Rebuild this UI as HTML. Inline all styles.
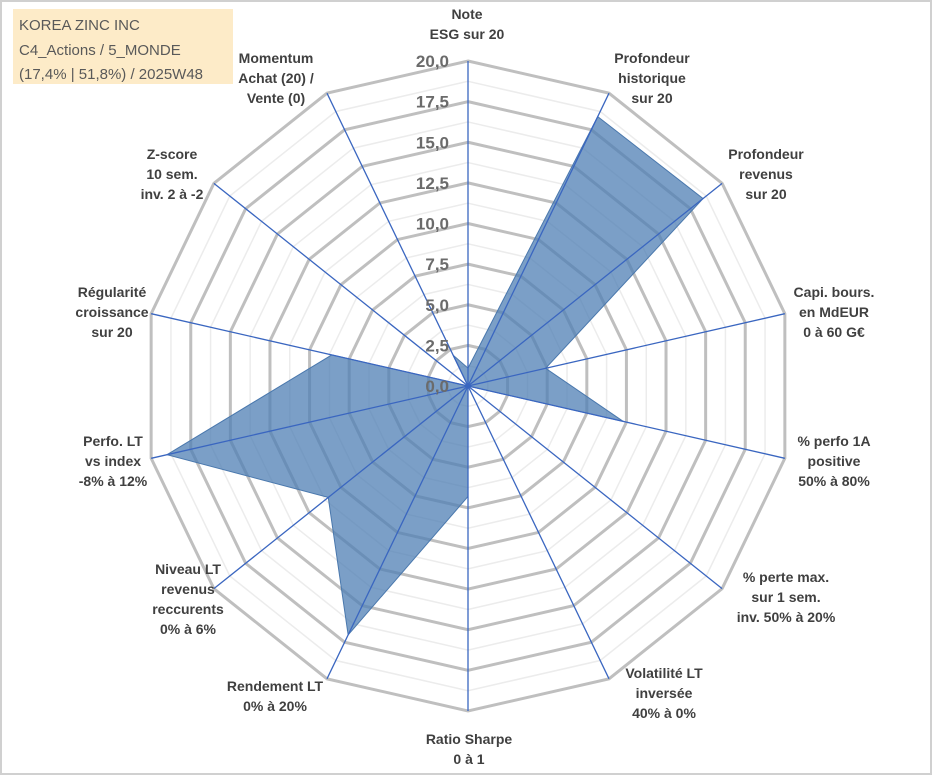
<!DOCTYPE html>
<html><head><meta charset="utf-8"><style>
body{margin:0;background:#fff;}
#wrap{position:relative;width:933px;height:776px;overflow:hidden;font-family:"Liberation Sans",sans-serif;}
</style></head><body>
<div id="wrap">
<svg id="chart" width="933" height="776">
<rect x="1" y="1" width="930" height="773" fill="#fff" stroke="#d0d0d0" stroke-width="2"/>
<rect x="13" y="9" width="220" height="75" fill="#fdebc8"/>
<text x="19" y="30" font-size="15" fill="#595959">KOREA ZINC INC</text>
<text x="19" y="55" font-size="15" fill="#595959">C4_Actions / 5_MONDE</text>
<text x="19" y="79" font-size="15" fill="#595959">(17,4% | 51,8%) / 2025W48</text>
<g id="grid"></g><g id="series"></g><g id="spokes"></g><g id="ticks"></g><g id="labels"></g>
</svg>
</div>
<script>
const categories=[["Note","ESG sur 20"],["Profondeur","historique","sur 20"],["Profondeur","revenus","sur 20"],["Capi. bours.","en MdEUR","0 à 60 G€"],["% perfo 1A","positive","50% à 80%"],["% perte max.","sur 1 sem.","inv. 50% à 20%"],["Volatilité LT","inversée","40% à 0%"],["Ratio Sharpe","0 à 1"],["Rendement LT","0% à 20%"],["Niveau LT","revenus","reccurents","0% à 6%"],["Perfo. LT","vs index","-8% à 12%"],["Régularité","croissance","sur 20"],["Z-score","10 sem.","inv. 2 à -2"],["Momentum","Achat (20) /","Vente (0)"]];
const values=[1.1,18.4,18.5,4.9,9.8,0,0,6.8,17,11,19,8.6,0,2.1];
const tickLabels=["0,0","2,5","5,0","7,5","10,0","12,5","15,0","17,5","20,0"];
const tickValues=[0,2.5,5,7.5,10,12.5,15,17.5,20];
const labelPos=[[467,14],[652,58],[766,154],[834,292],[834,441],[786,577],[664,673],[469,739],[275,686],[188,569],[113,441],[112,292],[172,154],[276,58]];
const CX=468,CY=386,R=325,MAX=20,N=categories.length;
const NS="http://www.w3.org/2000/svg";
function ang(i){return -Math.PI/2+i*2*Math.PI/N;}
function pt(i,v){const r=v/MAX*R,a=ang(i);return [CX+r*Math.cos(a),CY+r*Math.sin(a)];}
function mk(t,attrs,parent){const e=document.createElementNS(NS,t);for(const k in attrs)e.setAttribute(k,attrs[k]);document.getElementById(parent).appendChild(e);return e;}
// minor rings
for(let v=1.25;v<=MAX;v+=2.5){const p=mk('polygon',{points:categories.map((c,i)=>pt(i,v).join(',')).join(' '),fill:'none',stroke:'#ececec','stroke-width':1.5},'grid');

}
tickValues.forEach(v=>{if(v===0)return;const p=mk('polygon',{points:categories.map((c,i)=>pt(i,v).join(',')).join(' '),fill:'none',stroke:'#bfbfbf','stroke-width':3},'grid');

});
const poly=mk('polygon',{points:values.map((v,i)=>pt(i,v).join(',')).join(' '),fill:'#4f7fb4','fill-opacity':0.75,stroke:'#4a78ad','stroke-width':1},'series');


categories.forEach((c,i)=>{const e=pt(i,MAX);const l=mk('line',{x1:CX,y1:CY,x2:e[0],y2:e[1],stroke:'#3a66c0','stroke-width':1.3},'spokes');

});
tickValues.forEach((v,k)=>{const t=mk('text',{x:449,y:CY-v/MAX*R+6,'text-anchor':'end','font-size':17,'font-weight':'bold',fill:'#6b6b6b'},'ticks');t.textContent=tickLabels[k];

});
categories.forEach((lines,i)=>{const t=mk('text',{'text-anchor':'middle','font-size':14,'font-weight':'bold',fill:'#404040'},'labels');


lines.forEach((s,j)=>{const ts=document.createElementNS(NS,'tspan');ts.setAttribute('x',labelPos[i][0]);ts.setAttribute('y',labelPos[i][1]+5+j*20);ts.textContent=s;t.appendChild(ts);});});
</script>
</body></html>
